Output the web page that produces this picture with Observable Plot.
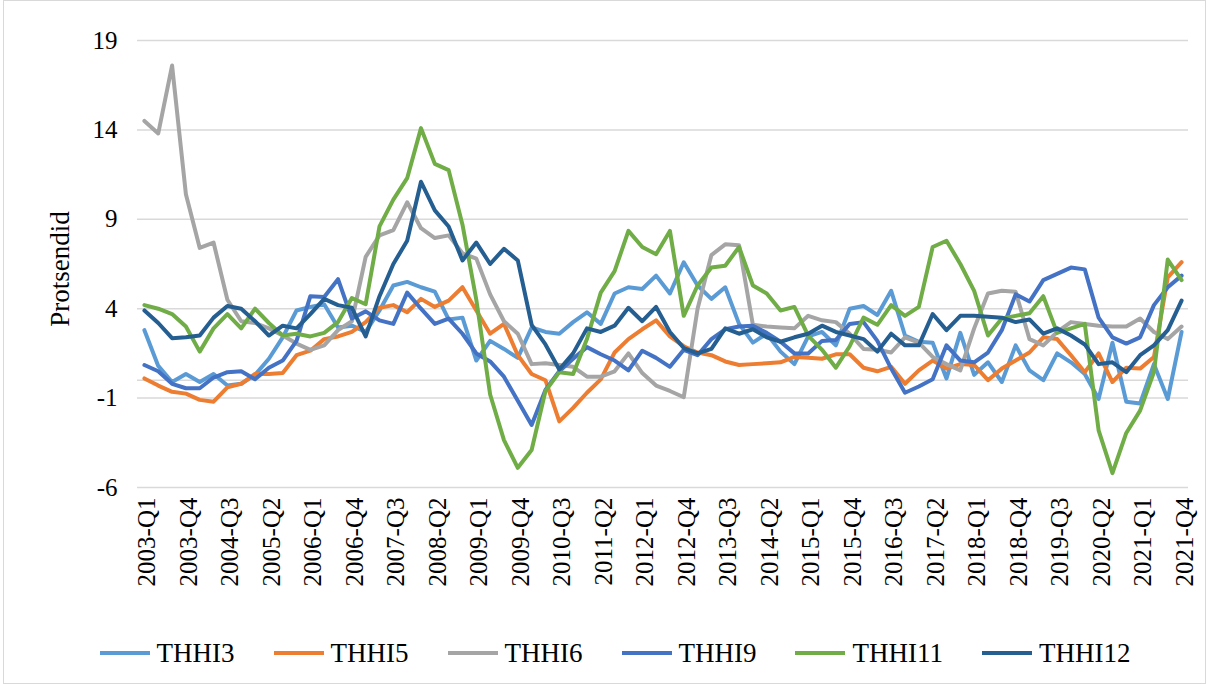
<!DOCTYPE html>
<html>
<head>
<meta charset="utf-8">
<script src="https://cdn.jsdelivr.net/npm/d3@7"></script>
<script src="https://cdn.jsdelivr.net/npm/@observablehq/plot@0.6"></script>
<style>
  html, body { margin: 0; padding: 0; background: #fff; }
  #wrap { position: relative; width: 1208px; height: 684px; overflow: hidden; font-family: "Liberation Serif", "Times New Roman", serif; }
  #frame { position: absolute; left: 3px; top: 0; width: 1201px; height: 682px; border: 1px solid #d9d9d9; pointer-events: none; }
  #legend { position: absolute; left: 0; top: 620px; width: 1208px; box-sizing: border-box; padding-left: 22px; height: 66px; display: flex; justify-content: center; align-items: center; gap: 39px; font-size: 27px; color: #000; }
  #legend .item { display: flex; align-items: center; }
  #legend .sw { display: inline-block; width: 50px; height: 4px; margin-right: 7px; }
</style>
</head>
<body>
<div id="wrap">
  <div id="chart"></div>
  <div id="legend"></div>
  <div id="frame"></div>
</div>
<script>
const years = d3.range(2003, 2022);
const quarterNames = ["Q1", "Q2", "Q3", "Q4"];
const quarters = years.flatMap(y => quarterNames.map(q => `${y}-${q}`));
const tickLabels = quarters.filter((d, i) => i % 3 === 0);
const yTicks = [-6, -1, 4, 9, 14, 19];

const seriesNames = ["THHI3", "THHI5", "THHI6", "THHI9", "THHI11", "THHI12"];
const seriesColors = ["#5b9bd5", "#ed7d31", "#a5a5a5", "#4472c4", "#70ad47", "#255e91"];

const THHI3 = [2.8, 0.8, -0.1, 0.35, -0.1, 0.35, -0.3, -0.2, 0.3, 1.2, 2.4, 3.9, 4.1, 4.25, 2.95, 3.05, 2.7, 3.9, 5.3, 5.5,
  5.2, 4.95, 3.4, 3.5, 1.1, 2.2, 1.75, 1.25, 2.95, 2.7, 2.6, 3.25, 3.8, 3.15, 4.85, 5.2, 5.1, 5.85, 4.85, 6.6,
  5.3, 4.55, 5.2, 3.15, 2.1, 2.6, 1.6, 0.9, 2.45, 2.7, 1.95, 4.0, 4.15, 3.65, 5.0, 2.5, 2.15, 2.1, 0.1, 2.65,
  0.3, 1.0, -0.1, 1.95, 0.55, 0.0, 1.5, 1.0, 0.35, -1.05, 2.1, -1.2, -1.3, 0.9, -1.05, 2.7];
const THHI5 = [0.1, -0.3, -0.65, -0.75, -1.1, -1.2, -0.4, -0.2, 0.35, 0.35, 0.4, 1.4, 1.65, 2.3, 2.45, 2.7, 3.25, 4.05, 4.2, 3.8,
  4.55, 4.1, 4.45, 5.2, 3.9, 2.6, 3.15, 1.4, 0.35, 0.0, -2.3, -1.55, -0.7, 0.05, 1.55, 2.3, 2.85, 3.35, 2.45, 1.9,
  1.55, 1.4, 1.05, 0.85, 0.9, 0.95, 1.0, 1.3, 1.25, 1.2, 1.45, 1.45, 0.7, 0.5, 0.75, -0.2, 0.55, 1.1, 0.65, 0.9,
  0.85, 0.0, 0.65, 1.1, 1.55, 2.4, 2.3, 1.4, 0.45, 1.5, -0.1, 0.7, 0.65, 1.3, 5.75, 6.6];
const THHI6 = [14.5, 13.8, 17.6, 10.4, 7.4, 7.7, 4.5, 3.3, 3.2, 2.9, 2.5, 2.05, 1.7, 1.95, 2.8, 3.3, 6.9, 8.1, 8.4, 9.95,
  8.5, 7.95, 8.1, 7.1, 6.8, 4.8, 3.3, 2.6, 0.9, 0.95, 0.85, 0.75, 0.2, 0.2, 0.5, 1.5, 0.4, -0.3, -0.6, -0.95,
  4.0, 7.0, 7.6, 7.55, 3.1, 3.0, 2.95, 2.9, 3.6, 3.35, 3.25, 2.6, 1.75, 1.7, 1.55, 2.4, 2.1, 1.3, 0.9, 0.55,
  2.9, 4.85, 5.0, 4.95, 2.3, 1.95, 2.7, 3.25, 3.15, 3.05, 3.0, 3.0, 3.45, 2.7, 2.3, 3.0];
const THHI9 = [0.85, 0.5, -0.2, -0.45, -0.45, 0.15, 0.45, 0.5, 0.05, 0.7, 1.1, 2.2, 4.7, 4.65, 5.65, 3.45, 3.85, 3.35, 3.15, 4.9,
  4.0, 3.15, 3.45, 2.6, 1.5, 1.05, 0.2, -1.15, -2.5, -0.55, 0.5, 1.2, 1.85, 1.45, 1.1, 0.55, 1.65, 1.25, 0.75, 1.7,
  1.4, 2.3, 2.85, 3.0, 3.05, 2.65, 2.15, 1.5, 1.5, 2.2, 2.25, 3.15, 3.25, 2.2, 0.65, -0.7, -0.35, 0.05, 1.95, 1.1,
  1.0, 1.55, 2.8, 4.8, 4.4, 5.6, 5.95, 6.3, 6.2, 3.5, 2.4, 2.05, 2.4, 4.2, 5.2, 5.85];
const THHI11 = [4.2, 4.0, 3.7, 3.0, 1.6, 2.9, 3.7, 2.9, 4.0, 3.2, 2.5, 2.6, 2.45, 2.65, 3.25, 4.6, 4.25, 8.6, 10.1, 11.3,
  14.1, 12.1, 11.75, 8.7, 4.5, -0.8, -3.35, -4.9, -3.9, -0.6, 0.45, 0.35, 2.3, 4.9, 6.1, 8.35, 7.45, 7.05, 8.35, 3.6,
  5.3, 6.3, 6.4, 7.45, 5.3, 4.85, 3.9, 4.1, 2.5, 1.7, 0.7, 1.9, 3.5, 3.1, 4.2, 3.6, 4.1, 7.45, 7.8, 6.5,
  5.0, 2.5, 3.45, 3.6, 3.75, 4.7, 2.65, 2.9, 3.15, -2.8, -5.2, -2.95, -1.7, 0.45, 6.75, 5.6];
const THHI12 = [3.9, 3.2, 2.35, 2.4, 2.5, 3.5, 4.15, 4.0, 3.3, 2.5, 3.05, 2.9, 3.7, 4.55, 4.2, 4.05, 2.45, 4.7, 6.5, 7.8,
  11.1, 9.5, 8.6, 6.7, 7.7, 6.5, 7.35, 6.7, 3.1, 2.0, 0.6, 1.5, 2.9, 2.7, 3.05, 4.05, 3.3, 4.1, 2.7, 1.8,
  1.5, 1.75, 2.9, 2.6, 2.85, 2.4, 2.15, 2.4, 2.6, 3.05, 2.7, 2.5, 2.3, 1.6, 2.6, 1.95, 1.95, 3.7, 2.8, 3.6,
  3.6, 3.55, 3.5, 3.25, 3.4, 2.6, 2.9, 2.5, 2.0, 0.9, 1.0, 0.45, 1.4, 1.95, 2.8, 4.45];

const seriesValues = [THHI3, THHI5, THHI6, THHI9, THHI11, THHI12];
const rows = seriesNames.flatMap((s, k) => seriesValues[k].map((v, i) => ({ s, q: quarters[i], v })));

const font = "'Liberation Serif', 'Times New Roman', serif";

const chart = Plot.plot({
  width: 1208,
  height: 620,
  marginLeft: 137,
  marginRight: 20,
  marginTop: 40,
  marginBottom: 133,
  style: { fontFamily: font, fontSize: "24px", color: "#000", background: "transparent", overflow: "visible" },
  x: { type: "point", domain: quarters, padding: 0.5 },
  y: { domain: [-6, 19] },
  color: { domain: seriesNames, range: seriesColors },
  marks: [
    Plot.gridY(yTicks, { stroke: "#d9d9d9", strokeOpacity: 1, strokeWidth: 1.5 }),
    Plot.ruleY([0], { stroke: "#d9d9d9", strokeWidth: 1.5 }),
    Plot.axisY(yTicks, { tickSize: 0, tickPadding: 20, label: null, fontSize: 25, fill: "#000", tickFormat: d => String(d) }),
    Plot.axisX(tickLabels, { tickSize: 0, tickRotate: -90, tickPadding: 10, label: null, fontSize: 25, fill: "#000", dx: 3 }),
    Plot.line(rows, { x: "q", y: "v", z: "s", stroke: "s", strokeWidth: 4, strokeLinejoin: "round", strokeLinecap: "round" }),
    Plot.text(["Protsendid"], { text: d => d, frameAnchor: "left", textAnchor: "middle", dx: -77, dy: 5, rotate: -90, fontSize: 27, fill: "#000" })
  ]
});
document.getElementById("chart").appendChild(chart);

const legend = document.getElementById("legend");
seriesNames.forEach((s, k) => {
  const item = document.createElement("div");
  item.className = "item";
  const sw = document.createElement("span");
  sw.className = "sw";
  sw.style.background = seriesColors[k];
  item.appendChild(sw);
  item.appendChild(document.createTextNode(s));
  legend.appendChild(item);
});
</script>
</body>
</html>
